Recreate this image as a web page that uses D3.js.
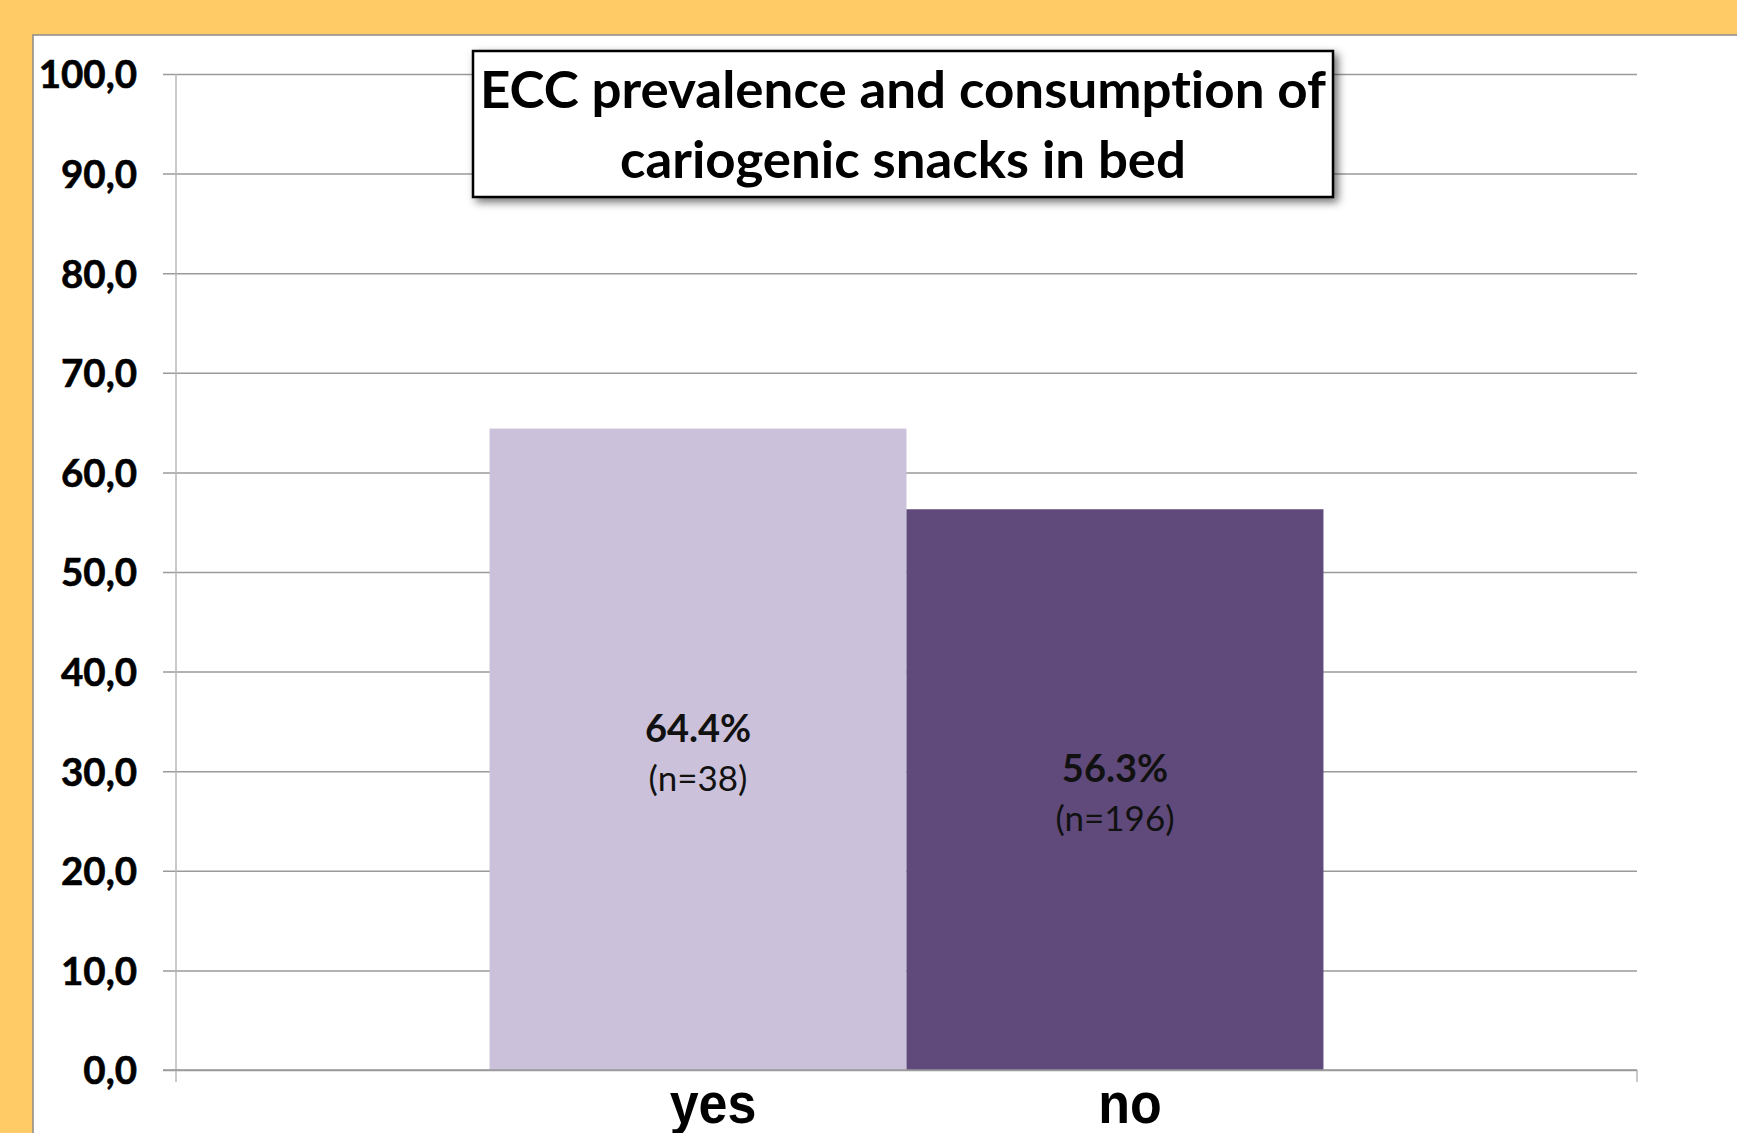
<!DOCTYPE html>
<html>
<head>
<meta charset="utf-8">
<script src="https://cdn.jsdelivr.net/npm/d3@7"></script>
<style>
  html, body { margin: 0; padding: 0; background: #FFCB66; }
  svg { display: block; }
  text { font-variant-ligatures: none; }
</style>
</head>
<body>
<svg id="chart" width="1737" height="1133"></svg>
<script>
// Chart values
const categories = ["yes", "no"];
const percentages = [64.4, 56.3];
const counts = [38, 196];
const yTicks = [0, 10, 20, 30, 40, 50, 60, 70, 80, 90, 100];
const titleLines = ["ECC prevalence and consumption of", "cariogenic snacks in bed"];
const barColors = ["#CBC1DA", "#604A7B"];

const W = 1737, H = 1133;
const plot = { left: 176, right: 1637, top: 74, bottom: 1070 };

const svg = d3.select("#chart");

// Shadow filter for the title box
const defs = svg.append("defs");
const f = defs.append("filter").attr("id", "shadow")
  .attr("x", "-10%").attr("y", "-20%").attr("width", "120%").attr("height", "150%");
f.append("feDropShadow").attr("dx", 4).attr("dy", 4)
  .attr("stdDeviation", 4).attr("flood-color", "#000").attr("flood-opacity", 0.55);

// Background and white chart area
svg.append("rect").attr("width", W).attr("height", H).attr("fill", "#FFCB66");
svg.append("rect").attr("x", 33).attr("y", 35).attr("width", W).attr("height", H)
  .attr("fill", "#fff").attr("stroke", "#8a8a8a").attr("stroke-width", 1.5);

const y = d3.scaleLinear().domain([0, 100]).range([plot.bottom, plot.top]);
const x = d3.scaleBand().domain(categories).range([plot.left, plot.right])
  .paddingInner(0).paddingOuter(0.752);

// Horizontal gridlines with tick marks
const yAxis = d3.axisLeft(y).tickValues(yTicks)
  .tickSize(-(plot.right - plot.left))
  .tickFormat(d => d3.format(".1f")(d).replace(".", ","));
const gy = svg.append("g").attr("transform", `translate(${plot.left},0)`).call(yAxis);
gy.select(".domain").remove();
gy.selectAll(".tick line").attr("stroke", "#9a9a9a").attr("stroke-width", 1.5)
  .attr("x1", -13);
gy.selectAll(".tick text")
  .attr("x", -39).attr("dy", "0.36em")
  .attr("font-family", "Lato, 'Open Sans', sans-serif")
  .attr("font-weight", 700).attr("font-size", 38.5).attr("fill", "#000")
  .attr("stroke", "#000").attr("stroke-width", 0.6);

// Vertical axis line and outer category ticks
svg.append("line").attr("x1", plot.left).attr("x2", plot.left)
  .attr("y1", plot.top).attr("y2", plot.bottom + 12)
  .attr("stroke", "#b8b8b8").attr("stroke-width", 1.5);
svg.append("line").attr("x1", plot.right).attr("x2", plot.right)
  .attr("y1", plot.bottom).attr("y2", plot.bottom + 12)
  .attr("stroke", "#b8b8b8").attr("stroke-width", 1.5);

// Bars
const data = categories.map((c, i) => ({ cat: c, pct: percentages[i], n: counts[i], color: barColors[i] }));
svg.append("g").selectAll("rect").data(data).join("rect")
  .attr("x", d => x(d.cat)).attr("width", x.bandwidth())
  .attr("y", d => y(d.pct)).attr("height", d => y(0) - y(d.pct))
  .attr("fill", d => d.color);

// Baseline over the bars
svg.append("line").attr("x1", plot.left - 13).attr("x2", plot.right)
  .attr("y1", y(0)).attr("y2", y(0))
  .attr("stroke", "#9a9a9a").attr("stroke-width", 1.5);

// Value labels centred in each bar
const lbl = svg.append("g").selectAll("g").data(data).join("g")
  .attr("transform", d => `translate(${x(d.cat) + x.bandwidth() / 2},${y(d.pct / 2)})`)
  .attr("font-family", "Lato, 'Open Sans', sans-serif").attr("fill", "#111")
  .attr("text-anchor", "middle");
lbl.append("text").attr("y", -21).attr("dy", "0.35em")
  .attr("font-weight", 700).attr("font-size", 38)
  .text(d => d.pct.toFixed(1) + "%");
lbl.append("text").attr("y", 29).attr("dy", "0.35em")
  .attr("font-weight", 400).attr("font-size", 35)
  .text(d => `(n=${d.n})`);

// Category labels
svg.append("g").selectAll("text").data(data).join("text")
  .attr("transform", d => `translate(${x(d.cat) + x.bandwidth() / 2 + 15},1123) scale(1,1.1)`)
  .attr("text-anchor", "middle")
  .attr("font-family", "'Liberation Sans', Arial, sans-serif")
  .attr("font-weight", 700).attr("font-size", 52).attr("fill", "#000")
  .text(d => d.cat);

// Title box
const tb = { x: 473, y: 51, w: 860, h: 146 };
svg.append("rect").attr("x", tb.x).attr("y", tb.y).attr("width", tb.w).attr("height", tb.h)
  .attr("fill", "#fff").attr("stroke", "#000").attr("stroke-width", 2.5)
  .attr("filter", "url(#shadow)");
const titleWidths = [846, 566];
const titleBaselines = [108, 178];
svg.append("g").selectAll("text").data(titleLines).join("text")
  .attr("x", tb.x + tb.w / 2).attr("y", (d, i) => titleBaselines[i])
  .attr("text-anchor", "middle")
  .attr("font-family", "Lato, 'Open Sans', sans-serif")
  .attr("font-weight", 700).attr("font-size", 51).attr("fill", "#000")
  .attr("textLength", (d, i) => titleWidths[i]).attr("lengthAdjust", "spacingAndGlyphs")
  .text(d => d);
</script>
</body>
</html>
